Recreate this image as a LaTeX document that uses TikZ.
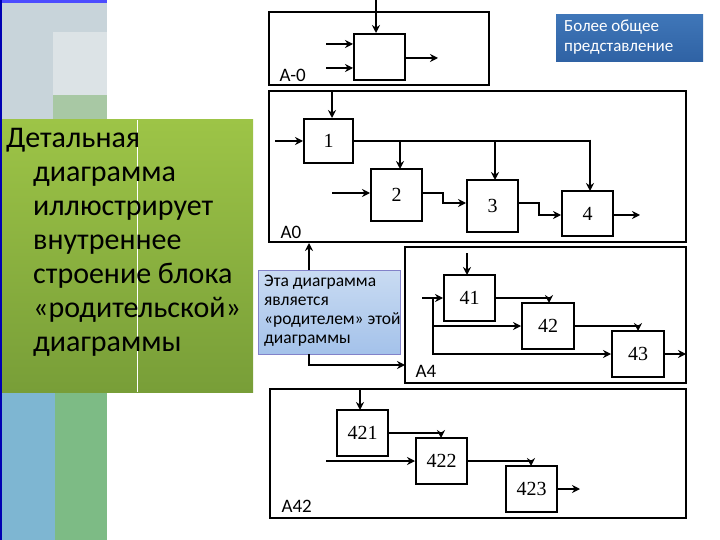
\documentclass[tikz,border=0pt]{standalone}
\usepackage{fontspec}
\setmainfont{Carlito}
\newfontfamily\serf{Liberation Serif}
\usetikzlibrary{arrows.meta}
\definecolor{gtop}{HTML}{9DC447}
\definecolor{gbot}{HTML}{789E38}
\definecolor{sg1}{HTML}{C8D4DA}
\definecolor{sg2}{HTML}{DCE3E6}
\definecolor{sg3}{HTML}{A8C8A4}
\definecolor{sb}{HTML}{7EB6D2}
\definecolor{sgr}{HTML}{7DBB85}
\definecolor{btop}{HTML}{3F76B8}
\definecolor{bbot}{HTML}{2F62A4}
\definecolor{ntop}{HTML}{C9DBF2}
\definecolor{nbot}{HTML}{A4C2EA}
\begin{document}
\begin{tikzpicture}[x=1pt,y=-1pt,
 frame/.style={draw,line width=2.2pt},
 blk/.style={draw,line width=2pt,fill=white},
 num/.style={font=\serf\fontsize{20}{20}\selectfont},
 lab/.style={font=\fontsize{19}{19}\selectfont,anchor=base west},
 ar/.style={line width=2.8pt,-{Stealth[length=8pt,width=8pt]}},
 ln/.style={line width=2.8pt}]
\useasboundingbox (0,0) rectangle (720,540);
% left panel
\fill[blue!70!black] (0,0) rectangle (2,540);
\fill[blue!70] (2,0) rectangle (107,3);
\fill[sg1] (2,3) rectangle (53,120);
\fill[sg1] (53,3) rectangle (107,32);
\fill[sg2] (53,32) rectangle (107,95);
\fill[sg3] (53,95) rectangle (107,120);
\fill[sb] (2,392) rectangle (55,540);
\fill[sgr] (55,392) rectangle (107,540);
\shade[top color=gtop, bottom color=gbot] (2,120) rectangle (253,392);
\draw[white,line width=0.8pt] (137,120) -- (137,392);
\node[anchor=north west,align=left,inner sep=0,font=\fontsize{30}{34}\selectfont] (det) at (6,128)
{Детальная\\\hspace*{27pt}диаграмма\\\hspace*{27pt}иллюстрирует\\\hspace*{27pt}внутреннее\\\hspace*{27pt}строение блока\\\hspace*{27pt}«родительской»\\\hspace*{27pt}диаграммы};
% blue note
\shade[top color=btop, bottom color=bbot] (556,15) rectangle (703,62);
\node[anchor=north west,align=left,inner sep=0,text=white,font=\fontsize{17}{20}\selectfont] (gen) at (564,20) {Более общее\\представление};
% A-0
\draw[frame] (269,12) rectangle (489,85);
\node[blk,minimum width=51pt,minimum height=46pt] (b0) at (379.5,57) {};
\coordinate (t0) at (376,0);
\draw[ar] (t0) -- (t0|-b0.north);
\coordinate (i01) at (326,44); \coordinate (i02) at (326,68);
\draw[ar] (i01) -- (i01-|b0.west);
\draw[ar] (i02) -- (i02-|b0.west);
\coordinate (o0) at (438,58);
\draw[ar] (o0-|b0.east) -- (o0);
\node[lab] (la0) at (276,82) {А-0};
% A0
\draw[frame] (269,91) rectangle (686,242);
\node[blk,minimum width=49pt,minimum height=44pt,num] (b1) at (328.5,141) {1};
\node[blk,minimum width=51pt,minimum height=52pt,num] (b2) at (396.5,195) {2};
\node[blk,minimum width=51pt,minimum height=52pt,num] (b3) at (492.5,206) {3};
\node[blk,minimum width=51pt,minimum height=45pt,num] (b4) at (587.5,213.5) {4};
\coordinate (t1) at (332,91); \draw[ar] (t1) -- (t1|-b1.north);
\coordinate (i1) at (275,141); \draw[ar] (i1) -- (b1.west);
\draw[ln] (b1.east) -- (590,141);
\draw[ar] (590,139.6) -- (590,191);
\draw[ar] (400,141) -- (400,169);
\draw[ar] (495,141) -- (495,180);
\coordinate (i2) at (332,193); \draw[ar] (i2) -- (i2-|b2.west);
\draw[ar] (422,193) -- (443,193) -- (443,203) -- (b3.west|-0,203);
\draw[ar] (518,203) -- (539,203) -- (539,215) -- (b4.west|-0,215);
\coordinate (o4) at (640,215); \draw[ar] (o4-|b4.east) -- (o4);
\node[lab] (la1) at (277,238) {А0};
% note
\shade[top color=ntop, bottom color=nbot] (258,270) rectangle (400,354);
\draw[blue!40!gray!70,line width=0.6pt] (258,270) rectangle (400,354);
\node[anchor=north west,align=left,inner sep=0,font=\fontsize{17.5}{19}\selectfont] (note) at (264,275) {Эта диаграмма\\является\\«родителем» этой\\диаграммы};
\coordinate (nu) at (309,270); \coordinate (nd) at (309,354);
\draw[ar] (nu) -- (309,243);
% A4
\draw[frame] (405,247) rectangle (686,383);
\draw[ar] (nd) -- (309,365) -- (405,365);
\node[blk,minimum width=51pt,minimum height=46pt,num] (b41) at (469.5,298) {41};
\node[blk,minimum width=52pt,minimum height=46pt,num] (b42) at (548,326) {42};
\node[blk,minimum width=52pt,minimum height=46pt,num] (b43) at (638,354) {43};
\draw[ar] (467,253) -- (467,275);
\coordinate (i41) at (422,298); \draw[ar] (i41) -- (b41.west);
\draw[ln] (433,298) -- (433,354);
\draw[ar] (432,326) -- (b42.west);
\draw[ar] (432,354) -- (b43.west);
\draw[ar] (b41.east) -- (549,298) -- (549,303);
\draw[ar] (b42.east) -- (638,326) -- (638,331);
\coordinate (o43) at (686,354); \draw[ar] (b43.east) -- (o43);
\node[lab] (la4) at (412,377) {А4};
% A42
\draw[frame] (270,389) rectangle (686,518);
\node[blk,minimum width=51pt,minimum height=46pt,num] (c1) at (362.5,433) {421};
\node[blk,minimum width=51pt,minimum height=46pt,num] (c2) at (441.5,461) {422};
\node[blk,minimum width=51pt,minimum height=46pt,num] (c3) at (531.5,489) {423};
\draw[ar] (360,389) -- (360,410);
\draw[ar] (c1.east) -- (441,433) -- (441,438);
\coordinate (i42) at (326,461); \draw[ar] (i42) -- (c2.west);
\draw[ar] (c2.east) -- (531,461) -- (531,466);
\coordinate (o423) at (580,489); \draw[ar] (c3.east) -- (o423);
\node[lab] (la42) at (278,512) {А42};
\end{tikzpicture}
\end{document}
